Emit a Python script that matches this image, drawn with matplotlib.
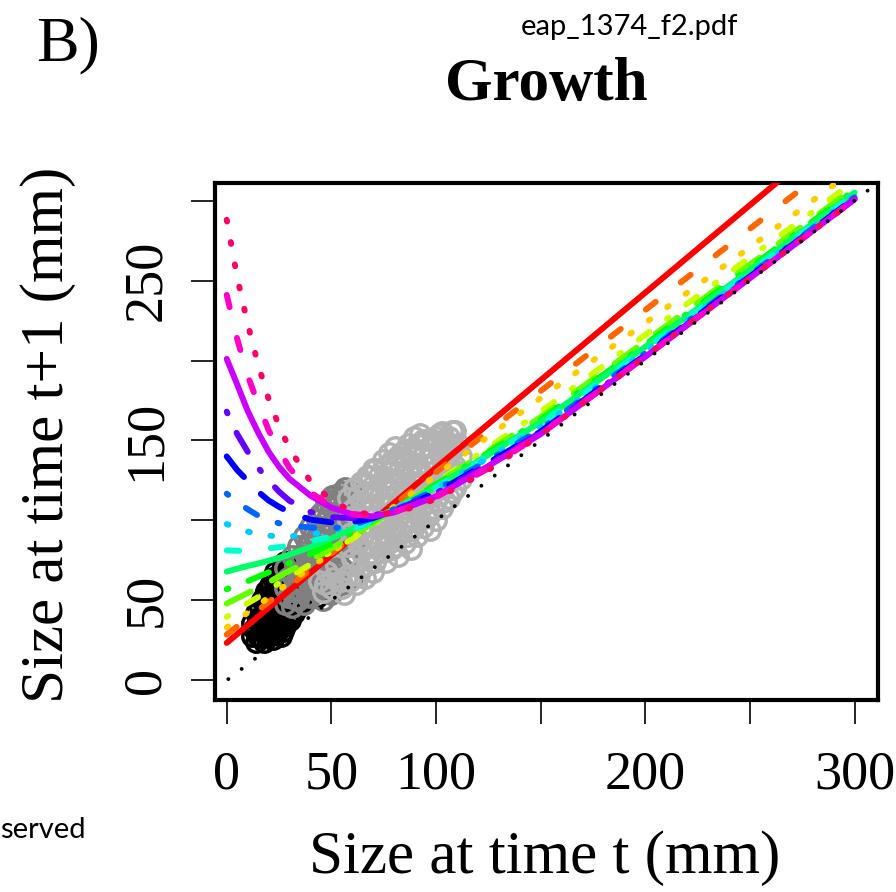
import matplotlib
matplotlib.use("Agg")
import matplotlib.pyplot as plt

# ---- data ---------------------------------------------------------------
# sizes (mm) at which the fitted growth curves were read
size_grid = [0, 5, 10, 15, 20, 25, 30, 40, 50, 60, 70, 80, 90, 100, 125, 150, 200, 250, 300]

# predicted size at t+1 for each fitted model, same order as the rainbow palette
fit_01 = [23.4, 28.9, 34.4, 39.8, 45.3, 50.8, 56.3, 67.2, 78.2, 89.1, 100.1, 111.0, 122.0, 132.9, 160.3, 187.7, 242.4, 297.2, 351.9]
fit_02 = [28.6, 33.7, 38.8, 43.8, 48.9, 54.0, 59.1, 69.2, 79.4, 89.5, 99.7, 109.8, 120.0, 130.1, 155.5, 180.9, 231.6, 282.4, 333.1]
fit_03 = [33.1, 37.7, 42.3, 47.0, 51.8, 56.5, 61.2, 70.4, 79.8, 89.3, 99.0, 108.7, 118.5, 128.3, 152.5, 176.5, 223.5, 270.8, 319.5]
fit_04 = [39.6, 44.0, 48.2, 52.0, 56.3, 60.8, 64.8, 72.5, 80.5, 88.5, 97.5, 106.0, 114.5, 123.5, 145.5, 168.0, 216.0, 264.5, 312.0]
fit_05 = [48.0, 51.3, 54.5, 57.8, 61.3, 65.0, 68.5, 75.3, 82.5, 90.0, 98.5, 106.5, 114.5, 123.0, 143.5, 164.5, 212.0, 260.0, 308.0]
fit_06 = [57.0, 59.5, 62.0, 64.8, 67.5, 70.3, 73.3, 79.0, 85.5, 92.5, 100.0, 107.5, 115.0, 122.5, 142.5, 163.0, 210.0, 258.0, 306.5]
fit_07 = [68.0, 69.8, 71.5, 73.0, 74.8, 76.6, 78.6, 83.3, 88.7, 94.7, 100.4, 107.0, 114.0, 121.0, 141.0, 161.5, 208.5, 256.5, 305.0]
fit_08 = [81.3, 81.0, 81.0, 81.7, 82.5, 83.3, 84.3, 87.0, 90.0, 94.0, 99.5, 106.0, 113.0, 120.5, 140.0, 160.0, 207.0, 255.5, 304.0]
fit_09 = [97.7, 95.0, 93.0, 91.5, 90.5, 90.0, 90.0, 91.3, 93.5, 97.0, 101.5, 107.5, 113.5, 120.0, 139.0, 158.5, 205.5, 254.0, 303.0]
fit_10 = [116.7, 111.5, 107.0, 103.0, 100.3, 98.2, 97.0, 95.5, 94.8, 97.0, 101.5, 107.0, 113.0, 119.0, 137.5, 157.0, 204.5, 253.5, 302.0]
fit_11 = [140.0, 131.5, 124.8, 118.0, 112.5, 108.5, 105.0, 100.5, 98.8, 99.0, 101.5, 106.0, 111.5, 117.5, 136.0, 155.5, 203.5, 252.5, 301.5]
fit_12 = [168.0, 154.0, 143.0, 133.0, 125.0, 118.0, 112.3, 105.3, 102.0, 101.5, 103.0, 106.5, 111.5, 117.0, 135.0, 155.0, 203.0, 252.0, 301.0]
fit_13 = [201.0, 185.0, 168.5, 155.0, 143.0, 133.5, 126.0, 115.5, 108.0, 103.8, 102.5, 105.0, 110.0, 115.0, 134.0, 154.0, 202.3, 251.5, 300.8]
fit_14 = [241.0, 213.5, 190.5, 173.0, 156.5, 144.0, 132.8, 117.5, 108.8, 104.0, 102.8, 105.5, 109.5, 114.5, 132.5, 154.0, 202.5, 251.5, 300.7]
fit_15 = [288.0, 252.0, 223.0, 197.5, 176.0, 159.0, 145.0, 124.3, 112.5, 105.5, 103.5, 105.0, 108.5, 113.5, 131.5, 153.5, 202.5, 251.5, 300.6]

# observed pairs (size t, size t+1), three groups of individuals
black_x = [12, 12, 14, 14, 14, 16, 16, 16, 18, 18, 18, 18, 20, 20, 20, 20,
           22, 22, 22, 22, 22, 24, 24, 24, 24, 26, 26, 26, 26, 26,
           28, 28, 28, 28, 28, 30, 30, 30, 30, 32, 32, 32, 32,
           34, 34, 34, 36, 36, 36, 38, 38, 40, 40, 42,
           13, 15, 15, 17, 17, 17, 19, 19, 19, 19, 21, 21, 21, 21,
           23, 23, 23, 23, 23, 25, 25, 25, 25, 27, 27, 27, 27, 27,
           29, 29, 29, 29, 31, 31, 31, 33, 33, 33, 35, 35, 37, 37, 39, 41, 43, 43, 45]
black_y = [28, 36, 24, 32, 42, 27, 36, 46, 24, 32, 42, 52, 28, 38, 48, 58,
           26, 34, 44, 54, 64, 30, 40, 50, 60, 28, 36, 46, 56, 68,
           34, 44, 54, 64, 74, 38, 48, 58, 70, 42, 52, 62, 72,
           46, 56, 66, 48, 58, 68, 52, 62, 54, 64, 58,
           32, 28, 38, 31, 41, 50, 28, 37, 47, 56, 31, 41, 51, 61,
           29, 38, 48, 58, 68, 33, 43, 53, 63, 31, 41, 51, 61, 71,
           39, 49, 59, 69, 43, 53, 65, 47, 57, 67, 50, 60, 53, 64, 56, 60, 52, 62, 56]

dark_x = [28, 28, 28, 31, 31, 31, 31, 34, 34, 34, 34, 37, 37, 37, 37, 37,
          40, 40, 40, 40, 40, 43, 43, 43, 43, 43, 46, 46, 46, 46, 46, 46,
          49, 49, 49, 49, 49, 49, 52, 52, 52, 52, 52, 52,
          55, 55, 55, 55, 55, 58, 58, 58, 58, 61, 61, 61, 50, 55, 60,
          29.5, 29.5, 32.5, 32.5, 32.5, 35.5, 35.5, 35.5, 38.5, 38.5, 38.5, 38.5,
          41.5, 41.5, 41.5, 41.5, 44.5, 44.5, 44.5, 44.5, 44.5,
          47.5, 47.5, 47.5, 47.5, 47.5, 47.5, 50.5, 50.5, 50.5, 50.5, 50.5, 50.5,
          53.5, 53.5, 53.5, 53.5, 53.5, 56.5, 56.5, 56.5, 56.5, 56.5, 59.5, 59.5, 59.5, 59.5]
dark_y = [48, 58, 70, 46, 56, 66, 78, 50, 60, 72, 84, 48, 58, 68, 80, 90,
          52, 62, 74, 86, 96, 56, 66, 78, 90, 100, 50, 60, 72, 84, 96, 106,
          58, 68, 80, 92, 104, 112, 64, 76, 88, 100, 110, 116,
          70, 84, 96, 108, 118, 78, 92, 104, 114, 86, 98, 110, 54, 60, 64,
          52, 64, 51, 61, 72, 55, 66, 78, 53, 63, 74, 85,
          57, 68, 80, 92, 61, 72, 84, 95, 104,
          55, 66, 77, 88, 100, 110, 62, 72, 84, 96, 108, 115,
          68, 80, 92, 104, 114, 76, 88, 100, 112, 120, 84, 96, 108, 118]

light_x = [44, 46, 48, 50, 52, 54, 56, 58, 60, 62, 64, 66, 68, 70,
           58, 58, 58, 61, 61, 61, 64, 64, 64, 64, 67, 67, 67, 67,
           70, 70, 70, 70, 70, 73, 73, 73, 73, 76, 76, 76, 76, 76,
           79, 79, 79, 79, 79, 82, 82, 82, 82, 82, 82, 85, 85, 85, 85, 85, 85,
           88, 88, 88, 88, 88, 91, 91, 91, 91, 91, 94, 94, 94, 94, 94,
           97, 97, 97, 97, 97, 100, 100, 100, 100, 100, 103, 103, 103, 103, 103,
           106, 106, 106, 106, 109, 109, 109, 109, 112, 112,
           59.5, 59.5, 62.5, 62.5, 62.5, 65.5, 65.5, 65.5, 68.5, 68.5, 68.5, 68.5,
           71.5, 71.5, 71.5, 71.5, 74.5, 74.5, 74.5, 74.5, 74.5, 77.5, 77.5, 77.5, 77.5, 77.5,
           80.5, 80.5, 80.5, 80.5, 80.5, 80.5, 83.5, 83.5, 83.5, 83.5, 83.5,
           86.5, 86.5, 86.5, 86.5, 86.5, 89.5, 89.5, 89.5, 89.5, 89.5,
           92.5, 92.5, 92.5, 92.5, 92.5, 95.5, 95.5, 95.5, 95.5, 98.5, 98.5, 98.5, 98.5,
           101.5, 101.5, 101.5, 101.5, 104.5, 104.5, 104.5, 104.5, 107.5, 107.5, 107.5, 107.5,
           110.5, 110.5, 47, 51, 55, 59, 63, 67, 71]
light_y = [62, 55, 68, 58, 72, 62, 54, 66, 76, 60, 70, 64, 78, 68,
           84, 100, 114, 90, 108, 120, 80, 96, 112, 124, 86, 102, 118, 128,
           78, 92, 108, 122, 132, 84, 98, 114, 128, 74, 90, 104, 120, 134,
           82, 96, 110, 126, 138, 78, 90, 102, 116, 130, 140, 86, 98, 108, 122, 136, 144,
           82, 94, 112, 128, 142, 90, 104, 118, 134, 148, 96, 110, 124, 140, 150,
           94, 104, 116, 130, 146, 100, 112, 124, 138, 152, 108, 120, 132, 146, 155,
           114, 128, 140, 152, 120, 134, 146, 156, 126, 140,
           92, 106, 86, 102, 116, 92, 108, 122, 84, 98, 114, 128,
           88, 102, 118, 132, 80, 96, 110, 126, 138, 86, 100, 114, 130, 142,
           84, 96, 108, 122, 136, 146, 92, 104, 114, 128, 142,
           90, 102, 118, 132, 148, 96, 110, 124, 140, 152,
           100, 114, 130, 144, 154, 102, 118, 134, 150, 108, 120, 136, 150,
           116, 128, 142, 154, 112, 124, 136, 150, 118, 132, 146, 156,
           130, 148, 60, 64, 58, 62, 66, 72, 74]

x_ticks = [0, 50, 100, 150, 200, 250, 300]
x_tick_labels = ["0", "50", "100", "", "200", "", "300"]
y_ticks = [0, 50, 100, 150, 200, 250, 300]
y_tick_labels = ["0", "50", "", "150", "", "250", ""]

# ---- styling ---------------------------------------------------------------
rainbow = ["#FF0000", "#FF6600", "#FFCC00", "#CCFF00", "#66FF00", "#00FF00", "#00FF66",
           "#00FFCC", "#00CCFF", "#0066FF", "#0000FF", "#6600FF", "#CC00FF", "#FF00CC", "#FF0066"]

# R line types, dash lengths in units of line width
lty = {
    "solid": "-",
    "dashed": (0, (2.1, 5.3)),
    "dotted": (0, (0.3, 3.5)),
    "dotdash": (0, (0.3, 3.7, 2.2, 3.7)),
    "longdash": (0, (4.5, 4.0)),
    "twodash": (0, (0.3, 3.6, 3.7, 3.6)),
}
lty_cycle = ["solid", "dashed", "dotted", "dotdash", "longdash", "twodash"]

W, H = 896, 892
SERIF = ["Liberation Serif", "DejaVu Serif"]
SANS = ["Lato", "DejaVu Sans"]


def fig_xy(px, py):
    return px / W, 1 - py / H


def main():
    plt.rcParams['font.family'] = SERIF
    fig = plt.figure(figsize=(W / 100, H / 100), dpi=100)
    ax = fig.add_axes([215 / W, (H - 700) / H, (878 - 215) / W, (700 - 183) / H])

    # observed points: black, dark grey, light grey
    groups = [(black_x, black_y, "#000000"),
              (dark_x, dark_y, "#808080"),
              (light_x, light_y, "#B3B3B3")]
    for gx, gy, col in groups:
        ax.plot(gx, gy, ls="none", marker="o", ms=14, mfc="none", mec=col, mew=2.5, zorder=2)

    fits = [fit_01, fit_02, fit_03, fit_04, fit_05, fit_06, fit_07, fit_08,
            fit_09, fit_10, fit_11, fit_12, fit_13, fit_14, fit_15]
    for i, vals in enumerate(fits):
        ax.plot(size_grid, vals, color=rainbow[i], lw=4.3,
                ls=lty[lty_cycle[i % len(lty_cycle)]],
                solid_capstyle="round", dash_capstyle="round", zorder=3)

    # 1:1 reference line
    ax.axline((0, 0), slope=1, color="black", lw=2.8, ls=(0, (0.01, 4.3)),
              dash_capstyle="round", zorder=5)

    ax.set_xlim(-5.6, 311.2)
    ax.set_ylim(-12.3, 311)
    ax.set_xticks(x_ticks)
    ax.set_xticklabels(x_tick_labels)
    ax.set_yticks(y_ticks)
    ax.set_yticklabels(y_tick_labels)
    ax.tick_params(direction="out", length=17, width=1.2, labelsize=39, color="black")
    ax.tick_params(axis="x", pad=19)
    ax.tick_params(axis="y", pad=14, labelrotation=90)
    for lbl in ax.get_yticklabels():
        lbl.set_va("center")
    for sp in ax.spines.values():
        sp.set_linewidth(3)

    fig.text(*fig_xy(545, 858), "Size at time t (mm)", fontsize=44, ha="center", va="center")
    fig.text(*fig_xy(48, 435), "Size at time t+1 (mm)", fontsize=44, ha="center", va="center",
             rotation=90)
    fig.text(*fig_xy(546, 85), "Growth", fontsize=44, fontweight="bold", ha="center", va="center")
    fig.text(*fig_xy(68, 45), "B)", fontsize=46, ha="center", va="center")
    fig.text(*fig_xy(629, 27), "eap_1374_f2.pdf", fontsize=21, family=SANS,
             ha="center", va="center")
    fig.text(*fig_xy(0, 830), "served", fontsize=21, family=SANS, ha="left", va="center")

    fig.savefig("out.png", dpi=100)
    plt.close(fig)


if __name__ == "__main__":
    main()
